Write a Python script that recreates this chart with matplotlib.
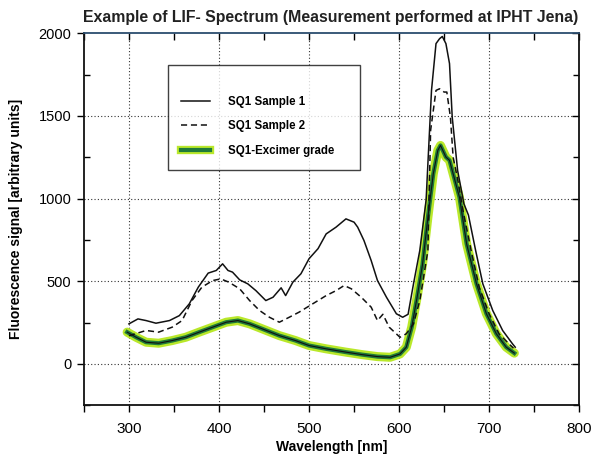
"""
LIF spectrum: two SQ1 samples vs excimer grade
"""

import numpy as np
import matplotlib
matplotlib.use("Agg")
import matplotlib.pyplot as plt
from matplotlib.ticker import MultipleLocator
from matplotlib.lines import Line2D
from matplotlib.legend_handler import HandlerTuple

plt.rcParams['font.family'] = ['Liberation Sans', 'DejaVu Sans']

# SQ1 Sample 1 (solid)
wl_s1 = [300, 310, 319, 330, 345, 356, 367, 377, 388, 397, 404, 410, 415, 423, 432, 441,
         452, 460, 469, 474, 482, 491, 500, 510, 519, 530, 541, 550, 554, 561, 569, 576,
         586, 597, 604, 610, 616, 623, 630, 636, 641, 645, 648, 652, 656, 659, 665, 672,
         677, 685, 693, 704, 715, 726, 729]
sig_s1 = [242, 272, 262, 246, 262, 292, 363, 464, 549, 565, 605, 565, 555, 508, 484, 443,
          383, 403, 460, 413, 494, 545, 636, 697, 786, 827, 877, 857, 827, 746, 625, 504,
          403, 303, 282, 300, 484, 686, 990, 1654, 1937, 1967, 1980, 1937, 1816, 1493, 1170, 968,
          900, 686, 484, 323, 202, 121, 101]

# SQ1 Sample 2 (dashed)
wl_s2 = [300, 319, 333, 348, 359, 370, 381, 393, 402, 411, 423, 434, 445, 456, 467, 478,
         489, 504, 519, 530, 539, 547, 558, 569, 576, 582, 589, 601, 608, 616, 623, 632,
         635, 641, 645, 650, 653, 657, 660, 666, 671, 680, 689, 700, 711, 722, 727]
sig_s2 = [170, 202, 192, 222, 262, 383, 464, 504, 514, 494, 454, 383, 323, 282, 252, 282,
          313, 363, 413, 443, 474, 454, 403, 343, 262, 300, 222, 161, 182, 242, 383, 686,
          1412, 1654, 1664, 1644, 1644, 1493, 1251, 1089, 928, 686, 464, 303, 182, 121, 95]

# SQ1-Excimer grade (green)
wl_ex = [298, 308, 319, 333, 348, 363, 378, 393, 408, 421, 434, 448, 467, 485, 500, 519,
         541, 559, 576, 590, 601, 608, 614, 620, 626, 632, 638, 643, 646, 652, 656, 661,
         667, 675, 686, 697, 708, 719, 728]
sig_ex = [192, 161, 131, 125, 141, 161, 192, 222, 252, 262, 242, 212, 171, 141, 111, 91,
          71, 56, 44, 40, 60, 101, 222, 403, 600, 887, 1150, 1291, 1321, 1251, 1231, 1130,
          1009, 726, 484, 303, 182, 101, 65]

lime = '#b9e82a'
dkgreen = '#1f7a3a'

fig = plt.figure(figsize=(5.91, 4.61), dpi=100)
ax = fig.add_axes([0.142, 0.121, 0.838, 0.807])

ax.plot(wl_ex, sig_ex, color=lime, lw=6.5, solid_capstyle='round', solid_joinstyle='round', zorder=3)
ax.plot(wl_ex, sig_ex, color=dkgreen, lw=3, zorder=4)
ax.plot(wl_ex, sig_ex, color='#111111', lw=0.8, zorder=5)
ax.plot(wl_s1, sig_s1, color='#111111', lw=1.1, zorder=6)
ax.plot(wl_s2, sig_s2, color='#111111', lw=1.1, ls=(0, (4, 2.5)), zorder=6)

ax.set_xlim(250, 800)
ax.set_ylim(-250, 2000)
ax.xaxis.set_major_locator(MultipleLocator(100))
ax.xaxis.set_minor_locator(MultipleLocator(50))
ax.yaxis.set_major_locator(MultipleLocator(500))
ax.yaxis.set_minor_locator(MultipleLocator(250))

for v in [300, 400, 500, 600, 700]:
    ax.axvline(v, color='#333333', lw=0.8, ls=(0, (1, 2)), zorder=1)
for v in [0, 500, 1000, 1500]:
    ax.axhline(v, color='#333333', lw=0.8, ls=(0, (1, 2)), zorder=1)

ax.tick_params(axis='x', which='both', direction='out', length=5, width=1,
               top=True, labelsize=11, pad=7)
ax.tick_params(axis='y', which='major', direction='out', length=5, width=1, labelsize=10.5, pad=4)
ax.tick_params(axis='y', which='minor', direction='in', length=4, width=1)
ax.tick_params(axis='y', which='both', right=True)
# top and right ticks point inward
for t in ax.xaxis.get_major_ticks() + ax.xaxis.get_minor_ticks():
    t.tick2line.set_marker(3)
for t in ax.yaxis.get_major_ticks() + ax.yaxis.get_minor_ticks():
    t.tick2line.set_marker(0)

for s in ax.spines.values():
    s.set_linewidth(1.3)
    s.set_color('#111111')
ax.spines['top'].set_color('#2b4d6e')

ax.set_xlabel('Wavelength [nm]', fontsize=10, fontweight='bold', labelpad=3)
ax.set_ylabel('Fluorescence signal [arbitrary units]', fontsize=10, fontweight='bold', labelpad=11)
fig.text(0.56, 0.962, 'Example of LIF- Spectrum (Measurement performed at IPHT Jena)',
         ha='center', va='center', fontsize=11.4, fontweight='bold', color='#222222')

handles = [Line2D([], [], color='#111111', lw=1.1),
           Line2D([], [], color='#111111', lw=1.1, ls=(0, (4, 2.5))),
           (Line2D([], [], color=lime, lw=6), Line2D([], [], color=dkgreen, lw=3))]
labels = ['SQ1 Sample 1', 'SQ1 Sample 2', 'SQ1-Excimer grade']
leg = ax.legend(handles, labels, loc='upper left', bbox_to_anchor=(0.17, 0.637, 0.388, 0.277),
                mode='expand', handler_map={tuple: HandlerTuple(ndivide=1)},
                fontsize=8.3, frameon=True, fancybox=False, edgecolor='#111111',
                borderpad=1.1, labelspacing=1.1, handlelength=2.5, handletextpad=1.6,
                borderaxespad=0, title=' ', title_fontsize=4)
leg.get_frame().set_linewidth(1.0)
for txt in leg.get_texts():
    txt.set_fontweight('bold')
leg.set_zorder(10)

fig.savefig('out.png', dpi=100)
